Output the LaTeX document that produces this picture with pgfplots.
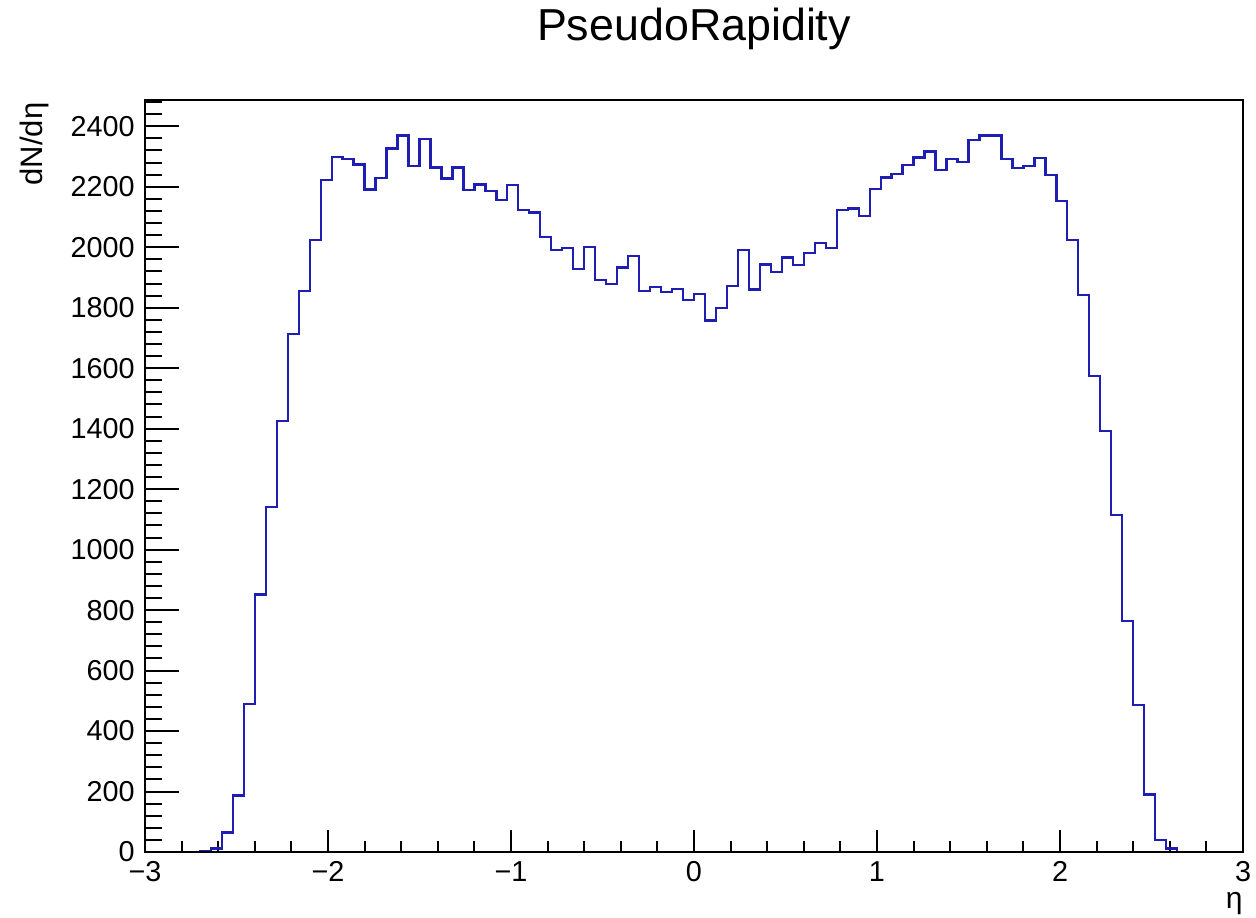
\documentclass[border=0pt]{standalone}
\usepackage{pgfplots}
\pgfplotsset{compat=1.18}
\usepackage{fontspec}
\setmainfont{Liberation Sans}

\definecolor{histblue}{RGB}{30,30,178}

% Counts per eta bin: 100 bins of width 0.06 on [-3,3]; x is the low edge of each bin
\pgfplotstableread{
x      n
-2.82  0
-2.76  0
-2.70  3
-2.64  12
-2.58  65
-2.52  187
-2.46  490
-2.40  852
-2.34  1140
-2.28  1426
-2.22  1712
-2.16  1855
-2.10  2025
-2.04  2223
-1.98  2298
-1.92  2293
-1.86  2274
-1.80  2191
-1.74  2228
-1.68  2327
-1.62  2370
-1.56  2268
-1.50  2358
-1.44  2264
-1.38  2227
-1.32  2264
-1.26  2189
-1.20  2208
-1.14  2187
-1.08  2156
-1.02  2207
-0.96  2124
-0.90  2115
-0.84  2033
-0.78  1991
-0.72  1997
-0.66  1929
-0.60  2000
-0.54  1891
-0.48  1878
-0.42  1933
-0.36  1970
-0.30  1856
-0.24  1868
-0.18  1851
-0.12  1863
-0.06  1825
 0.00  1846
 0.06  1758
 0.12  1798
 0.18  1873
 0.24  1992
 0.30  1860
 0.36  1943
 0.42  1919
 0.48  1966
 0.54  1942
 0.60  1980
 0.66  2013
 0.72  1997
 0.78  2124
 0.84  2128
 0.90  2104
 0.96  2192
 1.02  2231
 1.08  2243
 1.14  2271
 1.20  2297
 1.26  2317
 1.32  2255
 1.38  2291
 1.44  2283
 1.50  2354
 1.56  2370
 1.62  2370
 1.68  2293
 1.74  2262
 1.80  2268
 1.86  2296
 1.92  2240
 1.98  2152
 2.04  2025
 2.10  1842
 2.16  1574
 2.22  1393
 2.28  1114
 2.34  764
 2.40  486
 2.46  190
 2.52  40
 2.58  12
 2.64  0
 2.70  0
}\etadata

\pgfplotsset{
  rootframe/.style={
    at={(0,0)}, anchor=south west,
    scale only axis, width=549pt, height=376pt,
    xmin=-3, xmax=3, ymin=0, ymax=2487,
    axis line style={line width=1pt, black},
    tick align=inside, tick pos=left,
    tick style={line width=1pt, black},
    every tick label/.append style={font=\fontsize{14.4pt}{17pt}\selectfont},
  },
}

\begin{document}
\begin{tikzpicture}
\useasboundingbox (-72.5pt,-32.5pt) rectangle (555.5pt,426pt);

% histogram, frame and x ticks
\begin{axis}[rootframe,
  xtick={-3,-2,-1,0,1,2,3},
  xticklabels={−3,−2,−1,0,1,2,3},
  minor xtick={-2.8,-2.6,-2.4,-2.2,-1.8,-1.6,-1.4,-1.2,-0.8,-0.6,-0.4,-0.2,0.2,0.4,0.6,0.8,1.2,1.4,1.6,1.8,2.2,2.4,2.6,2.8},
  major tick length=11pt, minor tick length=5.5pt,
  ytick=\empty,
  xticklabel style={anchor=north, inner sep=0pt, yshift=-4.5pt},
  title={PseudoRapidity},
  title style={at={(axis description cs:0.5,1.0638)}, anchor=base, inner sep=0pt,
    font=\fontsize{22.4pt}{27pt}\selectfont},
  xlabel={η},
  xlabel style={at={(axis description cs:1,-0.0745)}, anchor=base east, inner sep=0pt,
    font=\fontsize{15pt}{18pt}\selectfont},
  ylabel={dN/dη},
  ylabel style={at={(axis description cs:-0.0938,0.997)}, anchor=base east, inner sep=0pt,
    rotate=0, font=\fontsize{15.5pt}{18pt}\selectfont},
]
\addplot[const plot mark left, histblue, line width=1.15pt] table[x=x, y=n] {\etadata};
\end{axis}

% y ticks (longer, as the pad is wider than tall)
\begin{axis}[rootframe,
  xtick=\empty,
  ytick={0,200,400,600,800,1000,1200,1400,1600,1800,2000,2200,2400},
  yticklabels={0,200,400,600,800,1000,1200,1400,1600,1800,2000,2200,2400},
  minor ytick={40,80,...,2480},
  major tick length=17pt, minor tick length=8.5pt,
  yticklabel style={anchor=east, inner sep=0pt, xshift=-5pt},
]
\end{axis}
\end{tikzpicture}
\end{document}
